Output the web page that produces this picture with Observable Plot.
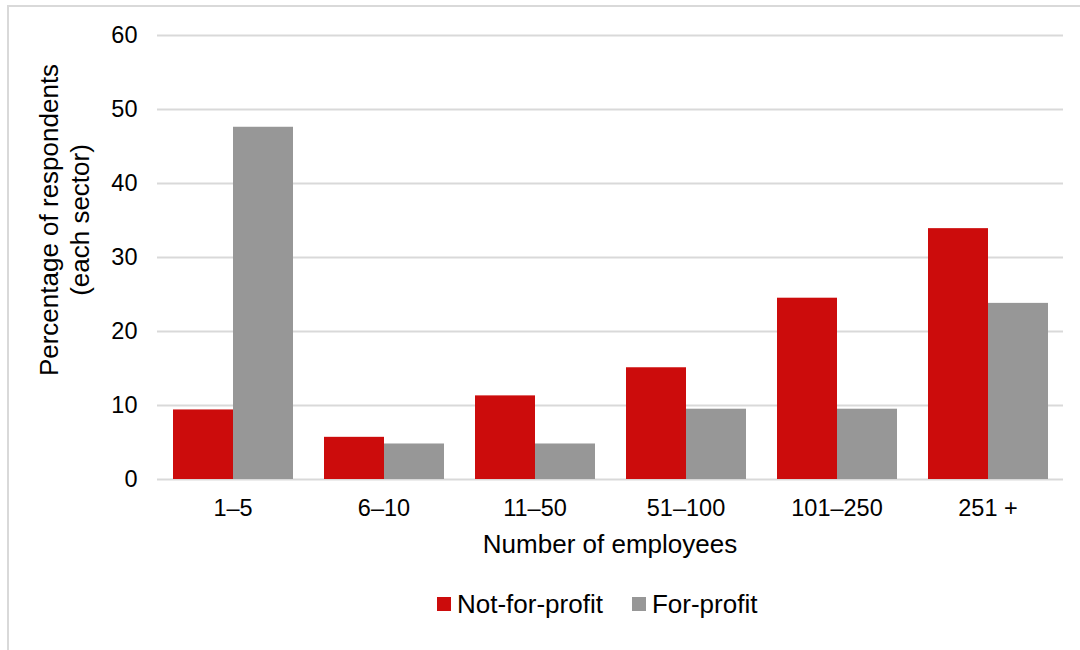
<!DOCTYPE html>
<html>
<head>
<meta charset="utf-8">
<script src="https://cdn.jsdelivr.net/npm/d3@7"></script>
<script src="https://cdn.jsdelivr.net/npm/@observablehq/plot@0.6"></script>
<style>
  body { margin: 0; background: #fff; font-family: "Liberation Sans", Arial, sans-serif; }
  #wrap { position: relative; width: 1080px; height: 650px; overflow: hidden; background: #fff; }
  #frame { position: absolute; left: 7px; top: 5px; width: 1200px; height: 800px;
           border-left: 2px solid #d9d9d9; border-top: 2px solid #d9d9d9; }
  #chart { position: absolute; left: 0; top: 0; }
  #legend { position: absolute; left: 437px; top: 591px; display: flex; align-items: center;
            font-size: 26px; line-height: 26px; color: #000; white-space: nowrap; }
  .item { display: flex; align-items: center; margin-right: 29px; }
  .sw { width: 14px; height: 14px; margin-right: 6px; }
</style>
</head>
<body>
<div id="wrap">
  <div id="frame"></div>
  <div id="chart"></div>
  <div id="legend"></div>
</div>
<script>
const categories = ["1–5", "6–10", "11–50", "51–100", "101–250", "251 +"];
const seriesNames = ["Not-for-profit", "For-profit"];
const notForProfit = [9.4, 5.7, 11.3, 15.1, 24.5, 33.9];
const forProfit = [47.6, 4.8, 4.8, 9.5, 9.5, 23.8];
const yTicks = [0, 10, 20, 30, 40, 50, 60];
const colors = ["#cc0c0c", "#979797"];
const xTitle = "Number of employees";
const yTitleLines = ["Percentage of respondents", "(each sector)"];

const data = [];
categories.forEach((c, i) => {
  data.push({category: c, series: seriesNames[0], value: notForProfit[i]});
  data.push({category: c, series: seriesNames[1], value: forProfit[i]});
});

const chart = Plot.plot({
  width: 1080,
  height: 570,
  marginLeft: 157,
  marginRight: 17,
  marginTop: 35,
  marginBottom: 91,
  style: {fontFamily: "'Liberation Sans', Arial, sans-serif", fontSize: "23px", color: "#000", background: "transparent", overflow: "visible"},
  fx: {domain: categories, padding: 0, label: null},
  x: {domain: seriesNames, axis: null, paddingInner: 0, paddingOuter: 0.25},
  y: {domain: [0, 60], label: null},
  color: {domain: seriesNames, range: colors},
  marks: [
    Plot.gridY(yTicks, {stroke: "#d9d9d9", strokeOpacity: 1, strokeWidth: 2}),
    Plot.barY(data, {fx: "category", x: "series", y: "value", fill: "series"}),
    Plot.axisY(yTicks, {tickSize: 0, tickPadding: 20, label: null, fontSize: 23.5}),
    Plot.axisFx({anchor: "bottom", tickSize: 0, tickPadding: 20, label: null, fontSize: 23.5})
  ]
});
document.getElementById("chart").appendChild(chart);

const svg = d3.select(chart);
svg.append("text")
  .attr("x", 610).attr("y", 553)
  .attr("text-anchor", "middle")
  .attr("font-size", 26)
  .attr("fill", "#000")
  .text(xTitle);

const yt = svg.append("g").attr("transform", "translate(0,220) rotate(-90)");
yt.append("text").attr("x", 0).attr("y", 58).attr("text-anchor", "middle")
  .attr("font-size", 26).attr("fill", "#000").text(yTitleLines[0]);
yt.append("text").attr("x", 0).attr("y", 89).attr("text-anchor", "middle")
  .attr("font-size", 26).attr("fill", "#000").text(yTitleLines[1]);

const legend = d3.select("#legend");
seriesNames.forEach((s, i) => {
  const it = legend.append("div").attr("class", "item");
  it.append("div").attr("class", "sw").style("background", colors[i]);
  it.append("span").text(s);
});
</script>
</body>
</html>
